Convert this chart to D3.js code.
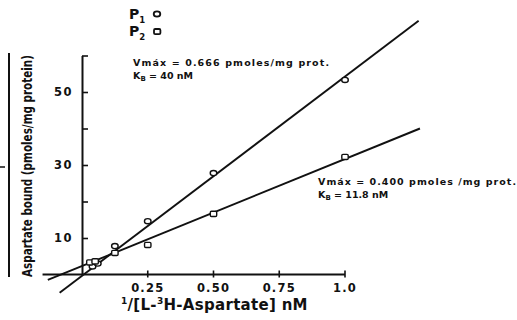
<!DOCTYPE html>
<html><head><meta charset="utf-8">
<script src="https://cdn.jsdelivr.net/npm/d3@7"></script>
<style>
html,body{margin:0;padding:0;background:#fff;}
svg{display:block;}
text{font-family:"DejaVu Sans",sans-serif;fill:#111;}
</style></head>
<body>
<script>
// ---- data ----
const p1X = [0.04, 0.06, 0.125, 0.25, 0.50, 1.0];
const p1Y = [2.2, 3.0, 7.8, 14.6, 27.8, 53.3];
const p2X = [0.03, 0.05, 0.125, 0.25, 0.50, 1.0];
const p2Y = [3.3, 3.6, 5.9, 8.1, 16.6, 32.2];
const p1LineX = [-0.085, 1.28];
const p1LineY = [-5.0, 69.5];
const p2LineX = [-0.13, 1.285];
const p2LineY = [-1.5, 40.0];
const xTicks = [0.25, 0.50, 0.75, 1.0];
const xTickLabels = ["0.25", "0.50", "0.75", "1.0"];
const yTicks = [10, 20, 30, 40, 50, 60];
const yTickLabels = ["10", "", "30", "", "50", ""];
const xAxisStart = -0.15;

const W = 517, H = 320;
const svg = d3.select("body").append("svg").attr("width", W).attr("height", H);
svg.append("rect").attr("width", W).attr("height", H).attr("fill", "#fff");

const x = d3.scaleLinear().domain([0, 1]).range([82, 345]);
const y = d3.scaleLinear().domain([0, 60]).range([274.5, 55.5]);

// x axis line (extends to negative side)
svg.append("line")
  .attr("x1", x(xAxisStart)).attr("x2", x(1.0))
  .attr("y1", y(0)).attr("y2", y(0))
  .attr("stroke", "#111").attr("stroke-width", 2);
// x ticks crossing
svg.selectAll(".xt").data(xTicks).enter().append("line")
  .attr("x1", d => x(d)).attr("x2", d => x(d))
  .attr("y1", y(0) - 4).attr("y2", y(0) + 3)
  .attr("stroke", "#111").attr("stroke-width", 1.6);
svg.selectAll(".xl").data(xTicks).enter().append("text")
  .attr("x", d => x(d)).attr("y", 292)
  .attr("text-anchor", "middle")
  .attr("font-size", 11.5).attr("font-weight", "bold").attr("letter-spacing", 1.2)
  .text((d, i) => xTickLabels[i]);

// y axis
const yAxis = d3.axisLeft(y).tickValues(yTicks)
  .tickSizeInner(-6).tickSizeOuter(0).tickPadding(9)
  .tickFormat((d, i) => yTickLabels[i]);
const ga = svg.append("g").attr("transform", `translate(${x(0)},0)`).call(yAxis);
ga.select(".domain").attr("stroke", "#111").attr("stroke-width", 2);
ga.selectAll(".tick line").attr("stroke", "#111").attr("stroke-width", 1.6);
ga.selectAll(".tick text").attr("font-size", 11.5).attr("font-weight", "bold")
  .attr("letter-spacing", 1.5)
  .attr("fill", "#111").attr("font-family", "DejaVu Sans, sans-serif");

// left bracket line and small mark
svg.append("line").attr("x1", 9).attr("x2", 9).attr("y1", 53).attr("y2", 277)
  .attr("stroke", "#111").attr("stroke-width", 2);
svg.append("line").attr("x1", 0).attr("x2", 5).attr("y1", 167).attr("y2", 167)
  .attr("stroke", "#111").attr("stroke-width", 1.5);

// regression lines
function fitLine(xs, ys) {
  svg.append("line")
    .attr("x1", x(xs[0])).attr("y1", y(ys[0]))
    .attr("x2", x(xs[1])).attr("y2", y(ys[1]))
    .attr("stroke", "#111").attr("stroke-width", 1.9);
}
fitLine(p1LineX, p1LineY);
fitLine(p2LineX, p2LineY);

// points
svg.selectAll(".p1").data(p1X).enter().append("ellipse")
  .attr("cx", d => x(d)).attr("cy", (d, i) => y(p1Y[i]))
  .attr("rx", 3.3).attr("ry", 2.6)
  .attr("fill", "#fff").attr("stroke", "#111").attr("stroke-width", 1.4);
svg.selectAll(".p2").data(p2X).enter().append("rect")
  .attr("x", d => x(d) - 3.2).attr("y", (d, i) => y(p2Y[i]) - 2.6)
  .attr("width", 6.4).attr("height", 5.2).attr("rx", 1.2)
  .attr("fill", "#fff").attr("stroke", "#111").attr("stroke-width", 1.4);

// legend
const lg = svg.append("g");
lg.append("text").attr("x", 129).attr("y", 19).attr("font-size", 14).attr("font-weight", "bold")
  .text("P").append("tspan").attr("dy", 4).attr("font-size", 8.5).text("1");
lg.append("text").attr("x", 129).attr("y", 36).attr("font-size", 14).attr("font-weight", "bold")
  .text("P").append("tspan").attr("dy", 4).attr("font-size", 8.5).text("2");
lg.append("ellipse").attr("cx", 157).attr("cy", 14).attr("rx", 3.3).attr("ry", 2.6)
  .attr("fill", "#fff").attr("stroke", "#111").attr("stroke-width", 1.8);
lg.append("rect").attr("x", 154).attr("y", 29).attr("width", 6.4).attr("height", 5.2).attr("rx", 1.2)
  .attr("fill", "#fff").attr("stroke", "#111").attr("stroke-width", 1.8);

// annotations
function ann(px, py, vtext, vlen, ktext) {
  svg.append("text").attr("x", px).attr("y", py).attr("font-size", 9.5).attr("font-weight", "bold")
    .attr("textLength", vlen).attr("lengthAdjust", "spacing").text(vtext);
  const k = svg.append("text").attr("x", px).attr("y", py + 13).attr("font-size", 9.5).attr("font-weight", "bold");
  k.append("tspan").text("K");
  k.append("tspan").attr("dy", 2).attr("font-size", 7).text("B");
  k.append("tspan").attr("dy", -2).text(ktext);
}
ann(133, 66, "Vmáx = 0.666 pmoles/mg prot.", 196, " = 40 nM");
ann(318, 185, "Vmáx = 0.400 pmoles /mg prot.", 198, " = 11.8 nM");

// axis titles
const xt = svg.append("text").attr("x", 121).attr("y", 310).attr("font-size", 15).attr("font-weight", "bold")
  .attr("letter-spacing", 0.3);
xt.append("tspan").attr("font-size", 9).attr("dy", -6).text("1");
xt.append("tspan").attr("dy", 6).text("/[L-");
xt.append("tspan").attr("font-size", 9).attr("dy", -6).text("3");
xt.append("tspan").attr("dy", 6).text("H-Aspartate] nM");

const yl = svg.append("text")
  .attr("font-size", 14).attr("font-weight", "bold")
  .text("Aspartate bound (pmoles/mg protein)");
const natural = yl.node().getComputedTextLength();
const sx = 222 / natural;
yl.attr("transform", `translate(32,277) rotate(-90) scale(${sx},1)`);
</script>
</body></html>
